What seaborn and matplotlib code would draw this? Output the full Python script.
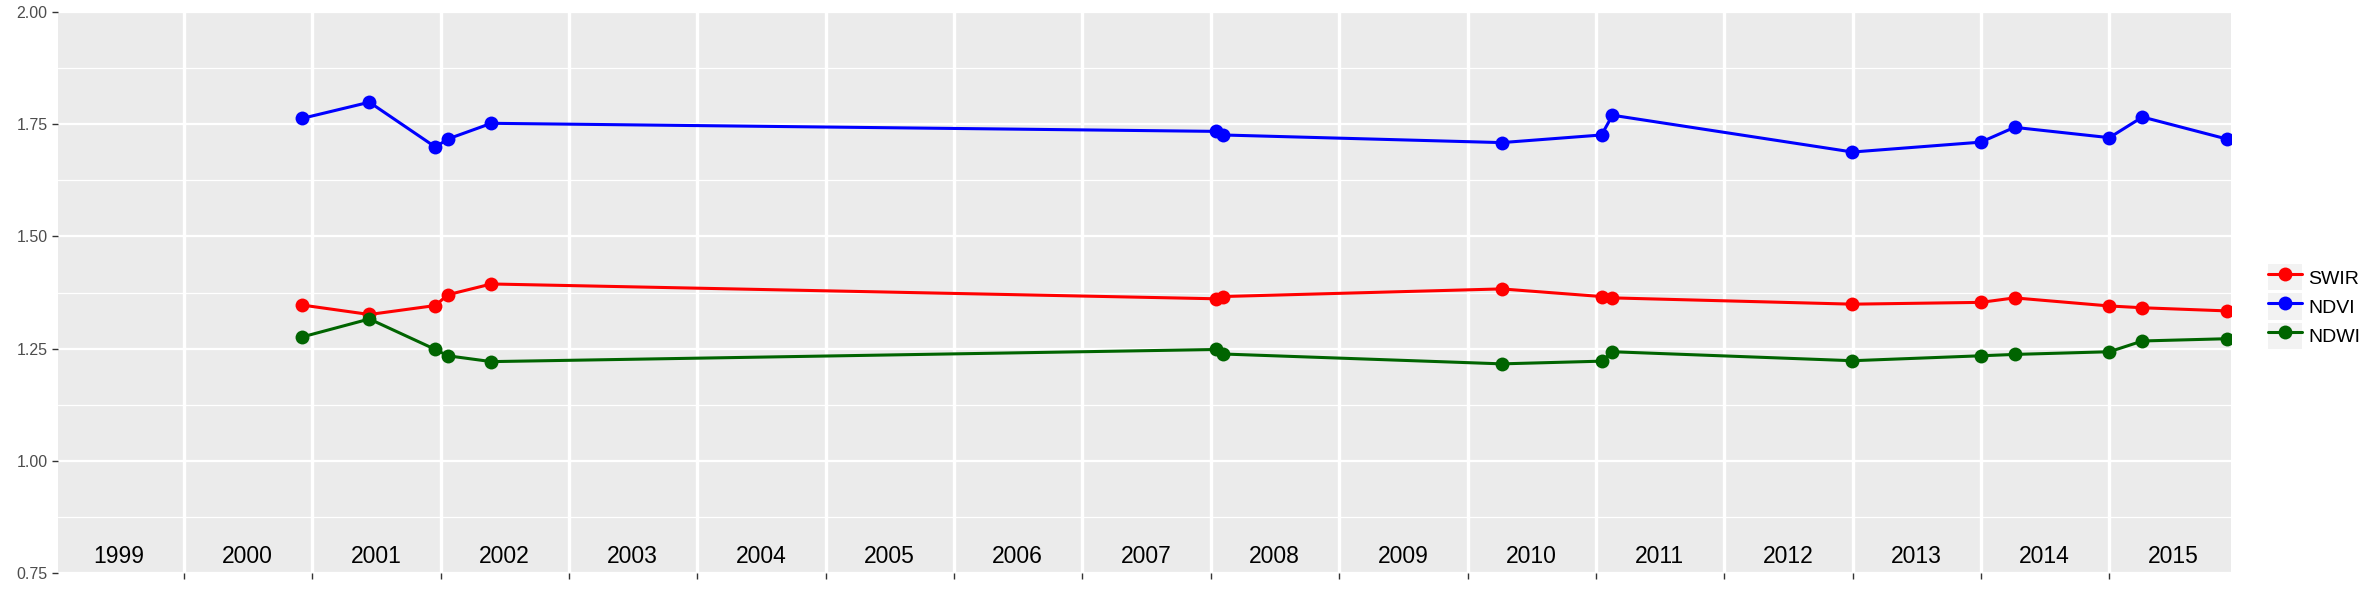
import numpy as np
import pandas as pd
import matplotlib
matplotlib.use("Agg")
import matplotlib.pyplot as plt
import matplotlib.dates as mdates
from matplotlib.patches import Rectangle
from matplotlib.lines import Line2D
from matplotlib.legend_handler import HandlerLine2D
import seaborn as sns

# ---------------- data ----------------
dates = ["2000-12-03", "2001-06-12", "2001-12-17", "2002-01-21", "2002-05-25",
         "2008-01-16", "2008-02-04", "2010-04-08", "2011-01-17", "2011-02-17",
         "2012-12-31", "2013-12-31", "2014-04-06", "2015-01-01", "2015-04-05",
         "2015-12-01"]
swir = [1.347, 1.326, 1.346, 1.370, 1.394, 1.361, 1.366, 1.383, 1.366, 1.363,
        1.349, 1.353, 1.363, 1.345, 1.341, 1.334]
ndvi = [1.763, 1.799, 1.699, 1.717, 1.752, 1.734, 1.726, 1.709, 1.726, 1.770,
        1.688, 1.710, 1.743, 1.720, 1.766, 1.717]
ndwi = [1.276, 1.316, 1.248, 1.234, 1.221, 1.248, 1.238, 1.216, 1.222, 1.243,
        1.223, 1.234, 1.237, 1.243, 1.267, 1.272]
series_names = ["SWIR", "NDVI", "NDWI"]
series_colors = ["#FF0000", "#0000FF", "#006400"]
year_labels = list(range(1999, 2016))
y_ticks = [0.75, 1.00, 1.25, 1.50, 1.75, 2.00]

# ---------------- style ----------------
sns.set_theme(style="darkgrid")
plt.rcParams["font.family"] = ["Liberation Sans", "DejaVu Sans"]

df = pd.DataFrame({
    "date": pd.to_datetime(dates * 3),
    "value": swir + ndvi + ndwi,
    "index": sum([[n] * len(dates) for n in series_names], []),
})

W, H, DPI = 2378, 593, 100
fig = plt.figure(figsize=(W / DPI, H / DPI), dpi=DPI)
fig.patch.set_facecolor("white")
ax = fig.add_axes([58 / W, 1 - 573 / H, (2231 - 58) / W, (573 - 12) / H])
ax.set_facecolor("#EBEBEB")

palette = dict(zip(series_names, series_colors))
sns.lineplot(data=df, x="date", y="value", hue="index", hue_order=series_names,
             palette=palette, marker="o", markersize=10, markeredgewidth=0,
             linewidth=2.2, legend=False, ax=ax, zorder=3)

# axes limits
ax.set_ylim(0.75, 2.00)
x0 = mdates.date2num(pd.Timestamp("1999-01-08"))
x1 = mdates.date2num(pd.Timestamp("2015-12-13"))
ax.set_xlim(x0, x1)

# y ticks + grid
ax.set_yticks(y_ticks)
ax.set_yticklabels([f"{v:.2f}" for v in y_ticks])
ax.set_yticks([0.875, 1.125, 1.375, 1.625, 1.875], minor=True)

# x ticks at year boundaries, no labels
xt = [mdates.date2num(pd.Timestamp(f"{y}-01-01")) for y in range(2000, 2016)]
ax.set_xticks(xt)
ax.set_xticklabels([""] * len(xt))
ax.set_xticks([], minor=True)

ax.grid(False)
ax.set_axisbelow(True)
ax.grid(which="major", axis="y", color="white", linewidth=1.65)
ax.grid(which="minor", axis="y", color="white", linewidth=0.9)
ax.grid(which="major", axis="x", color="white", linewidth=2.4)

ax.tick_params(axis="both", which="major", length=4, width=1.0, color="#333333",
               labelsize=11.5, labelcolor="#4D4D4D", pad=3.5,
               bottom=True, left=True)
ax.tick_params(which="minor", length=0)
for s in ax.spines.values():
    s.set_visible(False)
ax.set_xlabel("")
ax.set_ylabel("")

# year labels inside the panel
for y in year_labels:
    xm = mdates.date2num(pd.Timestamp(f"{y}-07-01"))
    ax.text(xm, 0.7715, str(y), ha="center", va="baseline", fontsize=16.5,
            color="black")


# ---------------- legend ----------------
class KeyHandler(HandlerLine2D):
    def create_artists(self, legend, orig_handle, xdescent, ydescent, width,
                       height, fontsize, trans):
        rect = Rectangle((-xdescent, -ydescent), width, height,
                         facecolor="#F2F2F2", edgecolor="none", transform=trans)
        arts = super().create_artists(legend, orig_handle, xdescent, ydescent,
                                      width, height, fontsize, trans)
        return [rect] + list(arts)


handles = [Line2D([], [], color=c, linewidth=2.2, marker="o", markersize=10,
                  markeredgewidth=0) for c in series_colors]
fs = 14
leg = fig.legend(handles, series_names, loc="center left",
                 bbox_to_anchor=(2268 / W, 1 - 306.5 / H),
                 bbox_transform=fig.transFigure, frameon=False, fontsize=fs,
                 numpoints=1, handlelength=34 / (fs * DPI / 72),
                 handleheight=33 / (fs * DPI / 72),
                 labelspacing=3 / (fs * DPI / 72),
                 handletextpad=6 / (fs * DPI / 72),
                 borderpad=0, borderaxespad=0,
                 handler_map={Line2D: KeyHandler()})
for t in leg.get_texts():
    t.set_color("black")

fig.savefig("out.png", dpi=DPI, facecolor="white")
